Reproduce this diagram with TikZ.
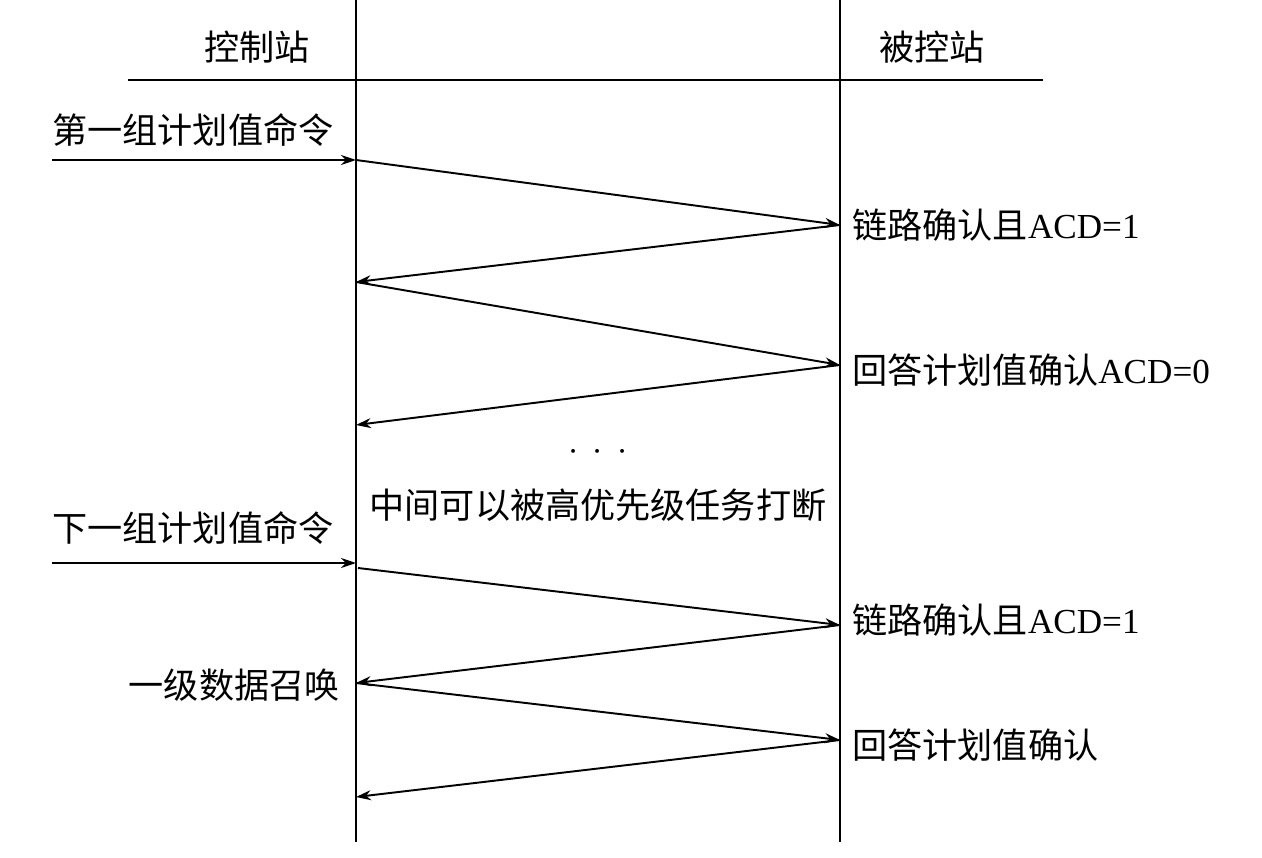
\documentclass[tikz,border=0pt]{standalone}
\usepackage{fontspec}
\setmainfont{Liberation Serif}
\newfontfamily\cjk{Noto Sans CJK SC}
\usetikzlibrary{arrows.meta}
\begin{document}
\begin{tikzpicture}[x=0.02cm,y=-0.02cm,
  msg/.style={line width=1.1pt,-{Stealth[length=0.3cm,width=0.2cm]}},
  ln/.style={line width=1.1pt},
  lbl/.style={font=\fontsize{20}{24}\selectfont,inner sep=0pt}]
\useasboundingbox[fill=white] (0,0) rectangle (1262,858);
\coordinate (lt) at (356,0); \coordinate (lb) at (356,842);
\coordinate (rt) at (840,0); \coordinate (rb) at (840,842);
\coordinate (hl) at (128,80); \coordinate (hr) at (1043,80);
\draw[ln] (lt)--(lb); \draw[ln] (rt)--(rb); \draw[ln] (hl)--(hr);
\node[lbl] (h1) at (257,47) {\cjk 控制站};
\node[lbl] (h2) at (932,47) {\cjk 被控站};
\foreach \n/\x/\y in {a0/52/160,a1/356/160,a2/840,225/b,a3/356/282,a4/840/365,a5/356/425,
 c0/52/563,c1/356/563,c1b/356/568,c2/840/625,c3/356/683,c4/840/740,c5/356/797}{}
\coordinate (a0) at (52,160); \coordinate (a1) at (356,160);
\coordinate (a2) at (840,225); \coordinate (a3) at (356,282);
\coordinate (a4) at (840,365); \coordinate (a5) at (356,425);
\coordinate (c0) at (52,563); \coordinate (c1) at (356,563);
\coordinate (c1b) at (358,568);
\coordinate (c2) at (840,625); \coordinate (c3) at (356,683);
\coordinate (c4) at (840,740); \coordinate (c5) at (356,797);
\draw[msg] (a0)--(a1); \draw[msg] (a1)--(a2); \draw[msg] (a2)--(a3);
\draw[msg] (a3)--(a4); \draw[msg] (a4)--(a5);
\draw[msg] (c0)--(c1); \draw[msg] (c1b)--(c2); \draw[msg] (c2)--(c3);
\draw[msg] (c3)--(c4); \draw[msg] (c4)--(c5);
\node[lbl,anchor=west] (t1) at (52,130) {\cjk 第一组计划值命令};
\node[lbl,anchor=west] (t2) at (852,225) {{\cjk 链路确认且}ACD=1};
\node[lbl,anchor=west] (t3) at (852,370) {{\cjk 回答计划值确认}ACD=0};
\node[lbl] (dots) at (598,452) {\textbf{$\cdot\,\cdot\,\cdot$}};
\node[lbl] (t4) at (598,505) {\cjk 中间可以被高优先级任务打断};
\node[lbl,anchor=west] (t5) at (52,528) {\cjk 下一组计划值命令};
\node[lbl,anchor=west] (t6) at (852,620) {{\cjk 链路确认且}ACD=1};
\node[lbl,anchor=east] (t7) at (340,685) {\cjk 一级数据召唤};
\node[lbl,anchor=west] (t8) at (852,745) {\cjk 回答计划值确认};
\end{tikzpicture}
\end{document}
